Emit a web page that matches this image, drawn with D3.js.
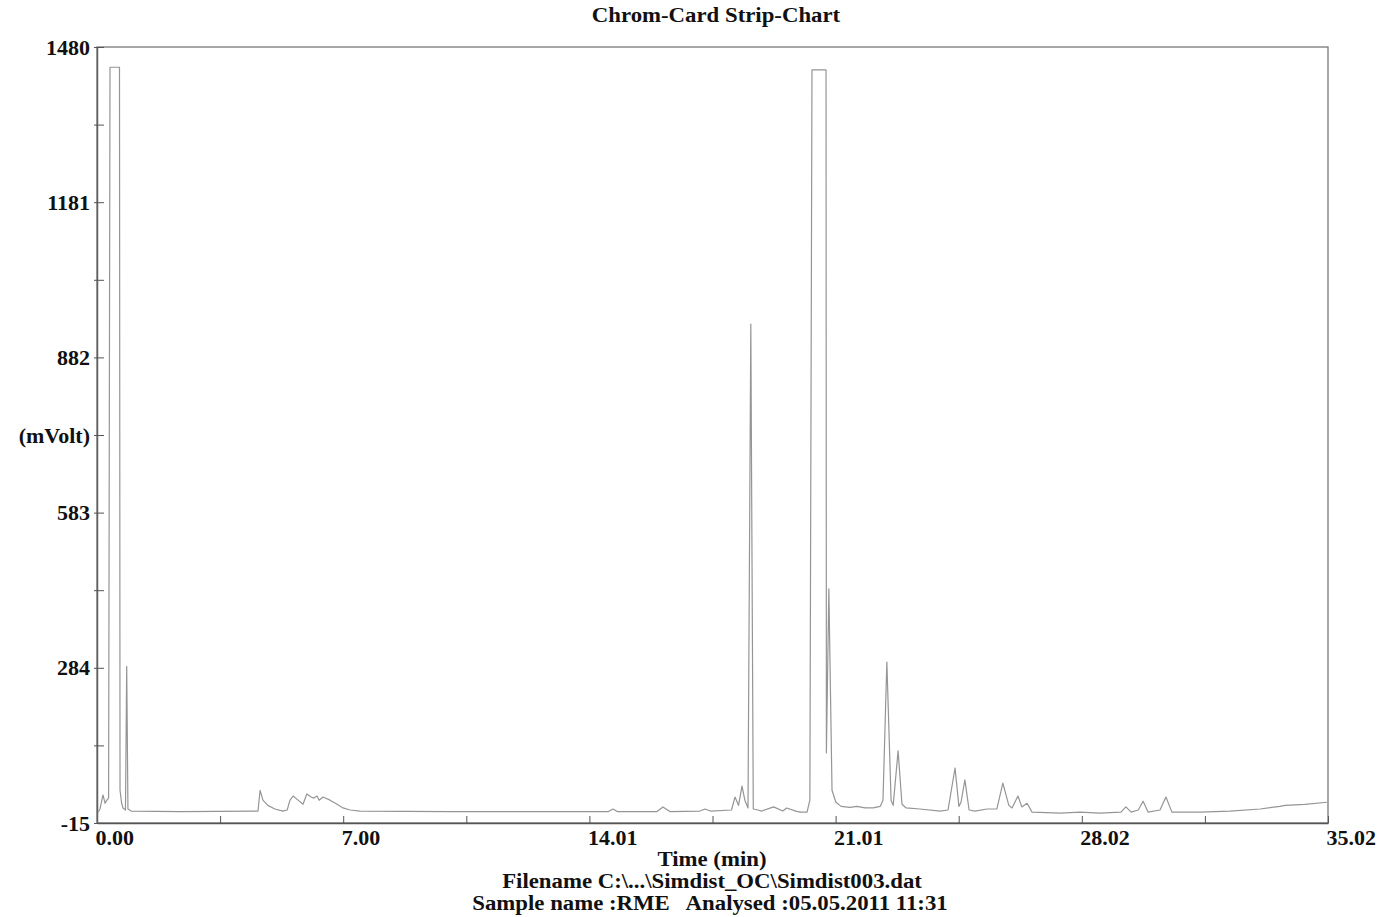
<!DOCTYPE html>
<html>
<head>
<meta charset="utf-8">
<script src="https://cdn.jsdelivr.net/npm/d3@7"></script>
<style>
  body { margin: 0; background: #fff; }
  text { font-family: "Liberation Serif", "Times New Roman", serif; font-weight: bold; fill: #111; }
</style>
</head>
<body>
<script>
// chromatogram trace (time in min, signal in mV)
const times = [0.03, 0.085, 0.17, 0.23, 0.28, 0.33, 0.37, 0.64, 0.655, 0.70, 0.74, 0.81, 0.845, 0.88, 0.97,
  2.36, 4.58, 4.64, 4.72, 4.86, 5.06, 5.29, 5.41, 5.49, 5.58, 5.72, 5.86, 5.97, 6.09, 6.17, 6.26, 6.32, 6.43,
  6.63, 6.83, 7.00, 7.20, 7.48, 10.04, 13.17, 14.55, 14.68, 14.80, 15.93, 16.10, 16.30, 17.15, 17.30, 17.45,
  18.05, 18.15, 18.25, 18.35, 18.43, 18.52, 18.60, 18.67, 18.80, 18.91, 19.25, 19.51, 19.62, 19.88, 20.01,
  20.12, 20.20, 20.28, 20.34, 20.74, 20.75, 20.82, 20.91, 21.02, 21.17, 21.42, 21.62, 21.85, 22.08, 22.28,
  22.36, 22.47, 22.59, 22.65, 22.79, 22.90, 23.02, 23.41, 23.98, 24.21, 24.41, 24.52, 24.58, 24.69, 24.81,
  24.98, 25.32, 25.60, 25.77, 25.94, 26.03, 26.20, 26.31, 26.46, 26.60, 27.40, 27.97, 28.53, 29.13, 29.27,
  29.42, 29.62, 29.76, 29.90, 30.24, 30.41, 30.58, 31.38, 32.23, 33.09, 33.65, 33.80, 34.36, 34.99]
const mvolts = [6, 12, 39, 23, 29, 33, 1441, 1441, 48, 23, 14, 10, 287, 12, 8,
  7, 8, 48, 29, 19, 12, 8, 10, 29, 37, 29, 21, 41, 35, 33, 37, 29, 35,
  29, 21, 14, 10, 8, 7, 7, 7, 12, 7, 7, 16, 7, 8, 12, 8,
  10, 35, 19, 56, 29, 14, 946, 12, 10, 8, 16, 8, 14, 8, 6,
  6, 6, 29, 1436, 1436, 120, 436, 48, 25, 17, 15, 17, 14, 14, 17,
  29, 295, 29, 19, 124, 21, 14, 12, 8, 10, 91, 17, 25, 68, 10,
  8, 12, 12, 62, 19, 14, 37, 16, 23, 6, 4, 6, 4, 6, 16,
  6, 10, 27, 6, 10, 35, 6, 6, 8, 12, 17, 19, 21, 25]

// axis ticks
const xTicks = [0, 3.502, 7.004, 10.506, 14.008, 17.51, 21.012, 24.514, 28.016, 31.518, 35.02]
const xTickLabels = ['0.00', '', '7.00', '', '14.01', '', '21.01', '', '28.02', '', '35.02']
const yTicks = [-15, 134.5, 284, 433.5, 583, 732.5, 882, 1031.5, 1181, 1330.5, 1480]
const yTickLabels = ['-15', '', '284', '', '583', '(mVolt)', '882', '', '1181', '', '1480']

const margin = {top: 47, right: 61, bottom: 94, left: 97}
const W = 1389, H = 917
const width = W - margin.left - margin.right
const height = H - margin.top - margin.bottom

const svg = d3.select('body').append('svg')
  .attr('width', W)
  .attr('height', H)

const g = svg.append('g')
  .attr('transform', 'translate(' + margin.left + ',' + margin.top + ')')

const x = d3.scaleLinear().domain([0, 35.02]).range([0, width])
const y = d3.scaleLinear().domain([-15, 1480]).range([height, 0])

// frame
g.append('rect')
  .attr('width', width)
  .attr('height', height)
  .attr('fill', 'none')
  .attr('stroke', '#777')
  .attr('stroke-width', 1.3)

const xAxis = g.append('g')
  .attr('transform', 'translate(0,' + height + ')')
  .call(d3.axisBottom(x).tickValues(xTicks).tickSize(-7).tickSizeOuter(0).tickPadding(6)
    .tickFormat(function(d, i) { return xTickLabels[i] }))
xAxis.select('.domain').attr('stroke', '#555').attr('stroke-width', 1.5)
xAxis.selectAll('.tick line').attr('stroke', '#555')
xAxis.selectAll('.tick text')
  .attr('text-anchor', 'start')
  .attr('x', -2)
  .style('font-size', '22px')

const yAxis = g.append('g')
  .call(d3.axisLeft(y).tickValues(yTicks).tickSize(-7).tickSizeOuter(0).tickPadding(7)
    .tickFormat(function(d, i) { return yTickLabels[i] }))
yAxis.select('.domain').attr('stroke', '#665f5f').attr('stroke-width', 1.5)
yAxis.selectAll('.tick line').attr('stroke', '#555').attr('x1', -3)
yAxis.selectAll('.tick text')
  .style('font-size', '22px')

// trace
const points = times.map(function(t, i) { return [t, mvolts[i]] })
const line = d3.line()
  .x(function(d) { return x(d[0]) })
  .y(function(d) { return y(d[1]) })

g.append('path')
  .datum(points)
  .attr('d', line)
  .attr('fill', 'none')
  .attr('stroke', '#959595')
  .attr('stroke-width', 1.2)
  .attr('stroke-linejoin', 'round')

// titles
function label(txt, cx, by) {
  svg.append('text')
    .attr('transform', 'translate(' + cx + ',' + by + ') scale(1.14,1)')
    .attr('text-anchor', 'middle')
    .style('font-size', '20px')
    .style('white-space', 'pre')
    .text(txt)
}
label('Chrom-Card Strip-Chart', 716, 22)
label('Time (min)', 712, 866)
label('Filename C:\\...\\Simdist_OC\\Simdist003.dat', 712, 888)
label('Sample name :RME   Analysed :05.05.2011 11:31', 710, 910)
</script>
</body>
</html>
